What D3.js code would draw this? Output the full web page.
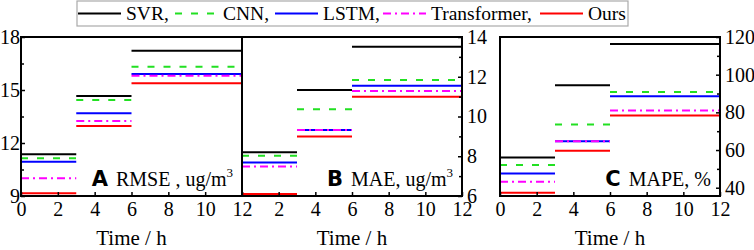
<!DOCTYPE html>
<html>
<head>
<meta charset="utf-8">
<script src="https://cdn.jsdelivr.net/npm/d3@7"></script>
<style>
  body { margin: 0; background: #fff; }
  svg { display: block; }
  text { font-family: "Liberation Serif", "Times New Roman", serif; }
</style>
</head>
<body>
<svg width="754" height="250"></svg>
<script>
// time windows (hours) for each step
const segments = [[0, 3], [3, 6], [6, 12]];
const models = ['SVR', 'CNN', 'LSTM', 'Transformer', 'Ours'];
const colors = ['#000000', '#22e022', '#0000ff', '#ff00ff', '#ff0000'];
const dashes = [null, '7,9', null, '8,4,2,4', null];

// values per model (rows follow models), one per segment
const rmseValues = [
    [11.36, 14.66, 17.22],
    [11.13, 14.43, 16.32],
    [10.94, 13.68, 15.91],
    [10.00, 13.25, 15.80],
    [9.15, 12.96, 15.38]
];
const maeValues = [
    [8.20, 11.33, 13.51],
    [8.03, 10.36, 11.84],
    [7.69, 9.32, 11.55],
    [7.48, 9.32, 11.28],
    [6.10, 8.99, 11.00]
];
const mapeValues = [
    [56.0, 94.4, 116.3],
    [52.1, 73.5, 90.8],
    [47.5, 64.6, 88.5],
    [43.2, 64.6, 81.0],
    [37.3, 59.6, 78.3]
];

const xTicks = [0, 2, 4, 6, 8, 10, 12];
const rmseTicks = [9, 12, 15, 18];
const rmseMinor = [10.5, 13.5, 16.5];
const maeTicks = [6, 8, 10, 12, 14];
const maeMinor = [7, 9, 11, 13];
const mapeTicks = [40, 60, 80, 100, 120];
const mapeMinor = [50, 70, 90, 110];

const svg = d3.select('svg');
const plotTop = 37, plotBottom = 196;

const panels = [
    { letter: 'A', label: ' RMSE , ug/m', sup: '3', values: rmseValues, domain: [9, 18],
      ticks: rmseTicks, minor: rmseMinor, x0: 21, x1: 242, side: 'left', hideZero: false },
    { letter: 'B', label: ' MAE, ug/m', sup: '3', values: maeValues, domain: [6, 14],
      ticks: maeTicks, minor: maeMinor, x0: 242, x1: 462, side: 'right', hideZero: true },
    { letter: 'C', label: ' MAPE, %', sup: null, values: mapeValues, domain: [35.6, 120],
      ticks: mapeTicks, minor: mapeMinor, x0: 500, x1: 720, side: 'right', hideZero: false }
];

panels.forEach(p => {
    const xScale = d3.scaleLinear().domain([0, 12]).range([p.x0, p.x1]);
    const yScale = d3.scaleLinear().domain(p.domain).range([plotBottom, plotTop]);
    const g = svg.append('g');

    // step lines
    p.values.forEach((row, i) => {
        g.selectAll(null).data(row).enter().append('line')
            .attr('x1', (d, j) => xScale(segments[j][0]))
            .attr('x2', (d, j) => xScale(segments[j][1]))
            .attr('y1', d => yScale(d))
            .attr('y2', d => yScale(d))
            .attr('stroke', colors[i])
            .attr('stroke-width', 2)
            .attr('stroke-dasharray', dashes[i]);
    });

    // frame
    g.append('rect')
        .attr('x', p.x0).attr('y', plotTop)
        .attr('width', p.x1 - p.x0).attr('height', plotBottom - plotTop)
        .attr('fill', 'none').attr('stroke', '#000').attr('stroke-width', 2);

    // x axis
    const xAxis = d3.axisBottom(xScale)
        .tickValues(xTicks)
        .tickFormat(d => (p.hideZero && d === 0) ? '' : d)
        .tickSizeInner(-4).tickSizeOuter(0).tickPadding(6);
    const xAxisG = g.append('g')
        .attr('transform', `translate(0,${plotBottom})`)
        .call(xAxis);
    xAxisG.select('.domain').remove();
    xAxisG.selectAll('line').attr('stroke-width', 1.5);
    xAxisG.selectAll('text').attr('font-size', 20).attr('font-family', '"Liberation Serif", serif').attr('fill', '#000');

    // y axis
    const axisX = p.side === 'left' ? p.x0 : p.x1;
    const makeAxis = p.side === 'left' ? d3.axisLeft : d3.axisRight;
    const yAxis = makeAxis(yScale).tickValues(p.ticks)
        .tickSizeInner(-4).tickSizeOuter(0).tickPadding(p.side === 'left' ? 1 : 5);
    const yAxisG = g.append('g').attr('transform', `translate(${axisX},0)`).call(yAxis);
    yAxisG.select('.domain').remove();
    yAxisG.selectAll('line').attr('stroke-width', 1.5);
    yAxisG.selectAll('text').attr('font-size', 20).attr('font-family', '"Liberation Serif", serif').attr('fill', '#000');

    const yMinor = makeAxis(yScale).tickValues(p.minor).tickFormat('').tickSizeInner(-3).tickSizeOuter(0);
    const yMinorG = g.append('g').attr('transform', `translate(${axisX},0)`).call(yMinor);
    yMinorG.select('.domain').remove();
    yMinorG.selectAll('line').attr('stroke-width', 1.5);

    // x axis title
    g.append('text')
        .attr('x', (p.x0 + p.x1) / 2)
        .attr('y', 245)
        .attr('text-anchor', 'middle')
        .attr('font-size', 21)
        .text('Time / h');

    // panel label
    const lab = g.append('text')
        .attr('x', p.x1 - 9)
        .attr('y', 186)
        .attr('text-anchor', 'end')
        .attr('font-size', 20);
    lab.append('tspan')
        .attr('font-family', '"DejaVu Sans", "Liberation Sans", sans-serif')
        .attr('font-weight', 'bold')
        .attr('font-size', 21)
        .text(p.letter);
    lab.append('tspan').attr('dx', 3).text(p.label);
    if (p.sup) {
        lab.append('tspan').attr('font-size', 13).attr('dy', -9).text(p.sup);
    }
});

// legend
const legendX = [78, 175, 275, 383, 540];
const legend = svg.append('g');
legend.append('rect')
    .attr('x', 77).attr('y', 1).attr('width', 551).attr('height', 25)
    .attr('fill', '#fff').attr('stroke', '#aaa').attr('stroke-width', 1.2);
models.forEach((m, i) => {
    legend.append('line')
        .attr('x1', legendX[i]).attr('x2', legendX[i] + 43)
        .attr('y1', 13.5).attr('y2', 13.5)
        .attr('stroke', colors[i]).attr('stroke-width', 2)
        .attr('stroke-dasharray', dashes[i]);
    legend.append('text')
        .attr('x', legendX[i] + 48).attr('y', 20)
        .attr('font-size', 19.5)
        .text(i < models.length - 1 ? m + ',' : m);
});
</script>
</body>
</html>
